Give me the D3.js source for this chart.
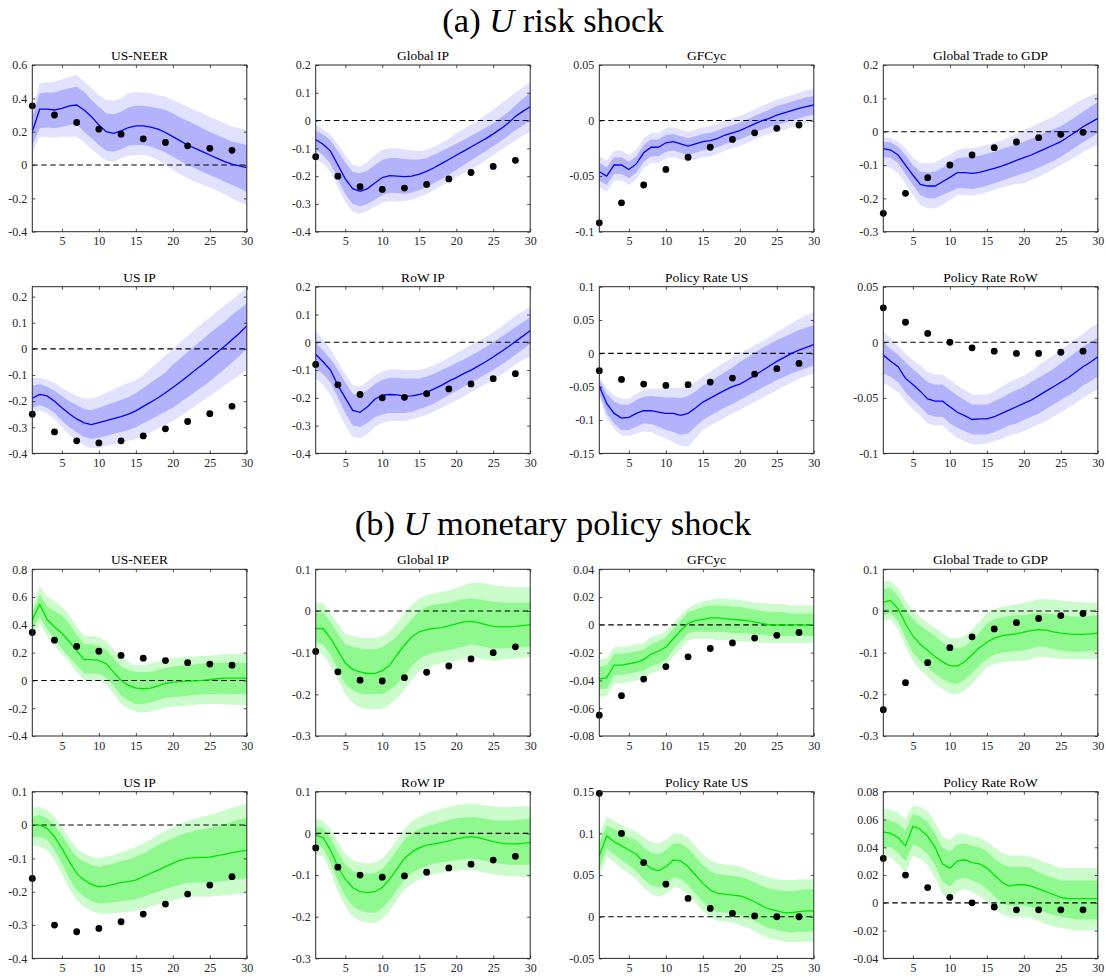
<!DOCTYPE html>
<html>
<head>
<meta charset="utf-8">
<script src="https://cdn.jsdelivr.net/npm/d3@7"></script>
<style>
  html, body { margin: 0; padding: 0; background: #fff; }
  svg { display: block; }
</style>
</head>
<body>
<script>
// Impulse responses over 30 horizons, with 68% and 90% credible bands
// and a comparison response shown as dots every third horizon.
const horizons = [1,2,3,4,5,6,7,8,9,10,11,12,13,14,15,16,17,18,19,20,21,22,23,24,25,26,27,28,29,30];
const dotHorizons = [1,4,7,10,13,16,19,22,25,28];
const xTicks = [5,10,15,20,25,30];

// ---- (a) risk shock ----
const riskNeerMed  = [0.20,0.335,0.335,0.33,0.34,0.355,0.36,0.33,0.29,0.24,0.20,0.19,0.205,0.225,0.235,0.235,0.228,0.215,0.195,0.17,0.145,0.12,0.10,0.08,0.06,0.04,0.02,0.005,-0.005,-0.015];
const riskNeerHi68 = [0.29,0.43,0.435,0.435,0.45,0.46,0.47,0.44,0.39,0.35,0.31,0.305,0.32,0.345,0.355,0.355,0.35,0.34,0.33,0.31,0.285,0.265,0.245,0.22,0.20,0.18,0.16,0.14,0.13,0.12];
const riskNeerLo68 = [0.12,0.22,0.225,0.22,0.23,0.24,0.245,0.20,0.16,0.12,0.085,0.08,0.095,0.115,0.12,0.12,0.11,0.095,0.075,0.05,0.025,0.0,-0.02,-0.04,-0.06,-0.08,-0.10,-0.12,-0.14,-0.16];
const riskNeerHi90 = [0.33,0.49,0.495,0.50,0.515,0.53,0.54,0.50,0.46,0.42,0.39,0.385,0.40,0.43,0.44,0.435,0.43,0.42,0.41,0.39,0.37,0.35,0.33,0.31,0.29,0.27,0.25,0.23,0.22,0.21];
const riskNeerLo90 = [0.07,0.17,0.17,0.165,0.17,0.17,0.17,0.135,0.095,0.06,0.025,0.02,0.04,0.055,0.06,0.06,0.05,0.03,0.0,-0.03,-0.055,-0.08,-0.10,-0.12,-0.135,-0.155,-0.175,-0.20,-0.22,-0.24];
const riskNeerDots = [0.355,0.30,0.255,0.215,0.185,0.157,0.135,0.115,0.10,0.088];

const riskGipMed  = [-0.068,-0.085,-0.11,-0.16,-0.21,-0.245,-0.255,-0.245,-0.225,-0.205,-0.198,-0.2,-0.202,-0.2,-0.193,-0.183,-0.17,-0.155,-0.14,-0.125,-0.11,-0.095,-0.08,-0.065,-0.048,-0.03,-0.01,0.015,0.033,0.05];
const riskGipHi68 = [-0.035,-0.05,-0.07,-0.11,-0.15,-0.185,-0.19,-0.18,-0.16,-0.142,-0.135,-0.135,-0.138,-0.14,-0.14,-0.135,-0.123,-0.11,-0.097,-0.083,-0.07,-0.055,-0.04,-0.025,-0.01,0.01,0.03,0.055,0.078,0.10];
const riskGipLo68 = [-0.105,-0.125,-0.155,-0.21,-0.265,-0.3,-0.308,-0.3,-0.285,-0.268,-0.26,-0.262,-0.263,-0.26,-0.25,-0.24,-0.225,-0.21,-0.195,-0.178,-0.16,-0.143,-0.127,-0.11,-0.092,-0.075,-0.055,-0.035,-0.018,0.0];
const riskGipHi90 = [-0.015,-0.03,-0.05,-0.085,-0.125,-0.16,-0.165,-0.15,-0.125,-0.106,-0.1,-0.1,-0.103,-0.107,-0.11,-0.105,-0.095,-0.08,-0.065,-0.045,-0.03,-0.015,0.0,0.02,0.04,0.06,0.08,0.10,0.12,0.14];
const riskGipLo90 = [-0.14,-0.155,-0.185,-0.24,-0.295,-0.328,-0.335,-0.325,-0.31,-0.296,-0.29,-0.29,-0.29,-0.285,-0.275,-0.265,-0.25,-0.235,-0.22,-0.205,-0.19,-0.175,-0.16,-0.143,-0.125,-0.107,-0.09,-0.072,-0.055,-0.04];
const riskGipDots = [-0.13,-0.20,-0.238,-0.248,-0.243,-0.23,-0.21,-0.187,-0.165,-0.143];

const riskGfcMed  = [-0.046,-0.05,-0.04,-0.04,-0.044,-0.039,-0.029,-0.024,-0.024,-0.02,-0.019,-0.021,-0.023,-0.021,-0.019,-0.018,-0.016,-0.013,-0.011,-0.009,-0.006,-0.003,0.0,0.002,0.005,0.007,0.009,0.011,0.0125,0.014];
const riskGfcHi68 = [-0.038,-0.042,-0.033,-0.033,-0.037,-0.032,-0.022,-0.017,-0.017,-0.013,-0.012,-0.014,-0.016,-0.014,-0.012,-0.011,-0.009,-0.006,-0.004,-0.002,0.001,0.004,0.007,0.01,0.013,0.015,0.017,0.019,0.021,0.022];
const riskGfcLo68 = [-0.054,-0.058,-0.048,-0.048,-0.052,-0.047,-0.037,-0.032,-0.032,-0.028,-0.027,-0.029,-0.031,-0.029,-0.027,-0.026,-0.024,-0.021,-0.019,-0.017,-0.014,-0.011,-0.008,-0.006,-0.004,-0.002,0.0,0.002,0.004,0.005];
const riskGfcHi90 = [-0.032,-0.036,-0.027,-0.027,-0.031,-0.026,-0.016,-0.011,-0.011,-0.007,-0.006,-0.008,-0.01,-0.008,-0.006,-0.005,-0.003,0.0,0.002,0.004,0.007,0.01,0.013,0.016,0.019,0.021,0.023,0.025,0.027,0.029];
const riskGfcLo90 = [-0.06,-0.064,-0.054,-0.054,-0.058,-0.053,-0.043,-0.038,-0.038,-0.034,-0.033,-0.035,-0.037,-0.035,-0.033,-0.032,-0.03,-0.027,-0.025,-0.023,-0.02,-0.017,-0.014,-0.012,-0.01,-0.008,-0.006,-0.004,-0.002,-0.001];
const riskGfcDots = [-0.092,-0.074,-0.058,-0.044,-0.033,-0.024,-0.017,-0.011,-0.007,-0.004];

const riskTradeMed  = [-0.051,-0.055,-0.07,-0.1,-0.13,-0.158,-0.163,-0.163,-0.15,-0.137,-0.123,-0.123,-0.125,-0.122,-0.116,-0.11,-0.103,-0.095,-0.086,-0.078,-0.07,-0.06,-0.05,-0.04,-0.03,-0.015,-0.001,0.015,0.027,0.04];
const riskTradeHi68 = [-0.03,-0.032,-0.045,-0.07,-0.1,-0.12,-0.122,-0.12,-0.108,-0.095,-0.08,-0.077,-0.077,-0.072,-0.066,-0.06,-0.052,-0.045,-0.037,-0.03,-0.021,-0.012,-0.002,0.007,0.016,0.03,0.045,0.06,0.075,0.088];
const riskTradeLo68 = [-0.075,-0.078,-0.095,-0.128,-0.16,-0.19,-0.2,-0.2,-0.19,-0.18,-0.17,-0.17,-0.172,-0.168,-0.162,-0.155,-0.147,-0.14,-0.132,-0.125,-0.117,-0.108,-0.098,-0.088,-0.075,-0.062,-0.047,-0.032,-0.018,-0.005];
const riskTradeHi90 = [-0.017,-0.018,-0.03,-0.05,-0.078,-0.095,-0.095,-0.093,-0.08,-0.07,-0.055,-0.05,-0.05,-0.045,-0.04,-0.033,-0.026,-0.018,-0.008,0.005,0.015,0.025,0.035,0.045,0.06,0.072,0.085,0.098,0.108,0.115];
const riskTradeLo90 = [-0.105,-0.108,-0.125,-0.155,-0.19,-0.22,-0.23,-0.23,-0.22,-0.205,-0.19,-0.19,-0.192,-0.188,-0.182,-0.175,-0.168,-0.162,-0.157,-0.155,-0.145,-0.135,-0.125,-0.113,-0.1,-0.088,-0.075,-0.062,-0.05,-0.04];
const riskTradeDots = [-0.245,-0.185,-0.138,-0.1,-0.07,-0.048,-0.031,-0.018,-0.008,-0.002];

const riskUsipMed  = [-0.189,-0.174,-0.18,-0.2,-0.225,-0.248,-0.268,-0.283,-0.29,-0.282,-0.275,-0.267,-0.259,-0.25,-0.237,-0.22,-0.204,-0.187,-0.168,-0.148,-0.127,-0.105,-0.082,-0.06,-0.037,-0.013,0.01,0.035,0.06,0.088];
const riskUsipHi68 = [-0.14,-0.135,-0.145,-0.16,-0.18,-0.2,-0.215,-0.23,-0.235,-0.225,-0.215,-0.205,-0.195,-0.185,-0.17,-0.15,-0.13,-0.11,-0.09,-0.06,-0.037,-0.012,0.012,0.035,0.06,0.083,0.105,0.13,0.152,0.175];
const riskUsipLo68 = [-0.225,-0.215,-0.225,-0.245,-0.275,-0.3,-0.32,-0.337,-0.345,-0.34,-0.333,-0.325,-0.318,-0.31,-0.3,-0.285,-0.27,-0.255,-0.24,-0.225,-0.205,-0.185,-0.165,-0.145,-0.125,-0.1,-0.077,-0.052,-0.027,0.0];
const riskUsipHi90 = [-0.11,-0.11,-0.12,-0.13,-0.15,-0.165,-0.18,-0.19,-0.19,-0.18,-0.168,-0.155,-0.142,-0.13,-0.12,-0.1,-0.075,-0.05,-0.025,0.0,0.025,0.05,0.075,0.098,0.12,0.145,0.165,0.188,0.21,0.235];
const riskUsipLo90 = [-0.245,-0.235,-0.245,-0.27,-0.3,-0.33,-0.35,-0.37,-0.38,-0.378,-0.372,-0.365,-0.36,-0.352,-0.345,-0.333,-0.32,-0.305,-0.29,-0.275,-0.258,-0.24,-0.22,-0.2,-0.18,-0.16,-0.14,-0.12,-0.1,-0.08];
const riskUsipDots = [-0.25,-0.318,-0.352,-0.36,-0.352,-0.333,-0.306,-0.278,-0.248,-0.22];

const riskRowipMed  = [-0.044,-0.07,-0.1,-0.155,-0.2,-0.245,-0.252,-0.232,-0.205,-0.19,-0.188,-0.189,-0.194,-0.193,-0.188,-0.18,-0.168,-0.155,-0.14,-0.127,-0.113,-0.1,-0.085,-0.07,-0.053,-0.035,-0.017,0.003,0.022,0.042];
const riskRowipHi68 = [0.0,-0.03,-0.06,-0.1,-0.145,-0.185,-0.19,-0.172,-0.15,-0.135,-0.128,-0.128,-0.13,-0.13,-0.13,-0.123,-0.112,-0.1,-0.088,-0.075,-0.062,-0.048,-0.033,-0.017,0.0,0.018,0.035,0.055,0.072,0.09];
const riskRowipLo68 = [-0.09,-0.115,-0.145,-0.2,-0.255,-0.3,-0.305,-0.29,-0.27,-0.26,-0.255,-0.255,-0.255,-0.25,-0.24,-0.232,-0.22,-0.205,-0.19,-0.175,-0.16,-0.145,-0.13,-0.115,-0.1,-0.083,-0.065,-0.045,-0.025,-0.005];
const riskRowipHi90 = [0.04,0.01,-0.025,-0.07,-0.115,-0.155,-0.16,-0.14,-0.12,-0.105,-0.098,-0.097,-0.1,-0.1,-0.1,-0.093,-0.083,-0.07,-0.055,-0.04,-0.025,-0.01,0.005,0.02,0.035,0.055,0.075,0.095,0.112,0.13];
const riskRowipLo90 = [-0.13,-0.155,-0.19,-0.245,-0.3,-0.34,-0.345,-0.33,-0.305,-0.29,-0.283,-0.283,-0.283,-0.278,-0.27,-0.262,-0.25,-0.237,-0.223,-0.21,-0.195,-0.18,-0.165,-0.15,-0.135,-0.118,-0.1,-0.08,-0.065,-0.05];
const riskRowipDots = [-0.08,-0.153,-0.188,-0.2,-0.198,-0.185,-0.168,-0.15,-0.131,-0.113];

const riskUsrateMed  = [-0.049,-0.075,-0.09,-0.097,-0.096,-0.09,-0.086,-0.086,-0.088,-0.09,-0.09,-0.093,-0.09,-0.082,-0.073,-0.067,-0.061,-0.055,-0.05,-0.046,-0.04,-0.033,-0.026,-0.019,-0.012,-0.006,0.0,0.005,0.009,0.013];
const riskUsrateHi68 = [-0.04,-0.06,-0.072,-0.077,-0.077,-0.07,-0.065,-0.064,-0.065,-0.066,-0.066,-0.067,-0.064,-0.057,-0.048,-0.042,-0.035,-0.028,-0.021,-0.013,-0.006,0.001,0.008,0.014,0.02,0.025,0.03,0.035,0.039,0.042];
const riskUsrateLo68 = [-0.058,-0.09,-0.105,-0.115,-0.115,-0.11,-0.105,-0.106,-0.11,-0.115,-0.118,-0.122,-0.12,-0.11,-0.1,-0.093,-0.087,-0.081,-0.076,-0.07,-0.064,-0.058,-0.052,-0.046,-0.04,-0.035,-0.03,-0.026,-0.022,-0.018];
const riskUsrateHi90 = [-0.035,-0.052,-0.063,-0.068,-0.068,-0.06,-0.055,-0.053,-0.053,-0.052,-0.052,-0.052,-0.05,-0.043,-0.035,-0.028,-0.02,-0.013,-0.006,0.0,0.006,0.012,0.018,0.024,0.032,0.038,0.045,0.052,0.057,0.062];
const riskUsrateLo90 = [-0.065,-0.098,-0.113,-0.123,-0.124,-0.12,-0.117,-0.118,-0.123,-0.128,-0.133,-0.138,-0.14,-0.128,-0.115,-0.108,-0.102,-0.096,-0.09,-0.085,-0.079,-0.073,-0.067,-0.061,-0.055,-0.049,-0.044,-0.038,-0.034,-0.03];
const riskUsrateDots = [-0.026,-0.039,-0.046,-0.048,-0.047,-0.043,-0.037,-0.031,-0.023,-0.015];

const riskRowrateMed  = [-0.0115,-0.017,-0.022,-0.0325,-0.038,-0.044,-0.051,-0.053,-0.053,-0.058,-0.063,-0.066,-0.0695,-0.069,-0.069,-0.067,-0.064,-0.061,-0.058,-0.055,-0.052,-0.048,-0.044,-0.04,-0.036,-0.032,-0.027,-0.022,-0.018,-0.013];
const riskRowrateHi68 = [0.0,-0.006,-0.011,-0.018,-0.024,-0.03,-0.036,-0.038,-0.038,-0.043,-0.048,-0.052,-0.056,-0.056,-0.056,-0.053,-0.05,-0.046,-0.043,-0.04,-0.036,-0.032,-0.028,-0.024,-0.019,-0.014,-0.009,-0.004,0.0,0.004];
const riskRowrateLo68 = [-0.028,-0.031,-0.036,-0.045,-0.052,-0.058,-0.065,-0.067,-0.067,-0.073,-0.077,-0.08,-0.083,-0.083,-0.083,-0.081,-0.078,-0.075,-0.073,-0.07,-0.067,-0.064,-0.06,-0.056,-0.052,-0.048,-0.044,-0.039,-0.035,-0.031];
const riskRowrateHi90 = [0.01,0.003,-0.003,-0.01,-0.016,-0.021,-0.027,-0.029,-0.029,-0.034,-0.039,-0.043,-0.047,-0.047,-0.047,-0.044,-0.04,-0.036,-0.033,-0.03,-0.026,-0.021,-0.016,-0.012,-0.007,-0.002,0.003,0.008,0.013,0.017];
const riskRowrateLo90 = [-0.037,-0.04,-0.045,-0.053,-0.06,-0.066,-0.073,-0.075,-0.075,-0.081,-0.086,-0.089,-0.092,-0.092,-0.091,-0.089,-0.087,-0.084,-0.082,-0.08,-0.077,-0.074,-0.071,-0.067,-0.063,-0.059,-0.055,-0.05,-0.046,-0.042];
const riskRowrateDots = [0.031,0.018,0.008,0.0,-0.005,-0.008,-0.01,-0.01,-0.009,-0.008];

// ---- (b) monetary policy shock ----
const monNeerMed  = [0.435,0.548,0.44,0.385,0.34,0.28,0.215,0.15,0.15,0.145,0.12,0.06,0.0,-0.035,-0.055,-0.06,-0.055,-0.04,-0.022,-0.012,-0.008,-0.005,-0.003,0.0,0.005,0.012,0.016,0.017,0.017,0.015];
const monNeerHi68 = [0.48,0.62,0.53,0.5,0.47,0.41,0.33,0.26,0.26,0.25,0.22,0.16,0.1,0.075,0.06,0.06,0.06,0.075,0.09,0.1,0.105,0.11,0.115,0.12,0.125,0.128,0.128,0.127,0.126,0.125];
const monNeerLo68 = [0.37,0.46,0.37,0.3,0.23,0.165,0.11,0.05,0.05,0.05,0.02,-0.04,-0.11,-0.145,-0.17,-0.17,-0.16,-0.14,-0.125,-0.12,-0.115,-0.11,-0.105,-0.102,-0.1,-0.098,-0.097,-0.098,-0.1,-0.1];
const monNeerHi90 = [0.53,0.68,0.6,0.57,0.53,0.47,0.39,0.32,0.32,0.31,0.28,0.22,0.17,0.13,0.11,0.11,0.12,0.135,0.15,0.16,0.165,0.17,0.172,0.175,0.18,0.185,0.19,0.19,0.19,0.19];
const monNeerLo90 = [0.32,0.41,0.32,0.25,0.19,0.13,0.06,0.0,0.0,0.0,-0.03,-0.1,-0.17,-0.205,-0.225,-0.23,-0.225,-0.21,-0.195,-0.19,-0.185,-0.18,-0.175,-0.172,-0.17,-0.17,-0.172,-0.175,-0.178,-0.18];
const monNeerDots = [0.345,0.29,0.245,0.21,0.18,0.16,0.143,0.128,0.118,0.11];

const monGipMed  = [-0.042,-0.042,-0.065,-0.095,-0.125,-0.14,-0.146,-0.15,-0.15,-0.143,-0.13,-0.105,-0.082,-0.062,-0.05,-0.045,-0.042,-0.04,-0.036,-0.031,-0.026,-0.025,-0.028,-0.033,-0.037,-0.038,-0.038,-0.037,-0.035,-0.033];
const monGipHi68 = [-0.005,-0.005,-0.025,-0.055,-0.08,-0.085,-0.09,-0.092,-0.092,-0.087,-0.075,-0.06,-0.04,-0.02,0.0,0.01,0.015,0.018,0.02,0.025,0.028,0.03,0.028,0.025,0.022,0.021,0.02,0.02,0.02,0.02];
const monGipLo68 = [-0.075,-0.08,-0.105,-0.14,-0.175,-0.19,-0.198,-0.2,-0.2,-0.2,-0.19,-0.175,-0.155,-0.132,-0.115,-0.105,-0.1,-0.097,-0.094,-0.09,-0.085,-0.08,-0.083,-0.087,-0.09,-0.09,-0.089,-0.088,-0.087,-0.085];
const monGipHi90 = [0.02,0.02,-0.005,-0.03,-0.055,-0.06,-0.065,-0.065,-0.065,-0.06,-0.048,-0.03,-0.005,0.015,0.03,0.038,0.042,0.046,0.05,0.055,0.062,0.068,0.068,0.066,0.062,0.06,0.058,0.057,0.057,0.057];
const monGipLo90 = [-0.1,-0.105,-0.13,-0.165,-0.2,-0.22,-0.232,-0.235,-0.235,-0.235,-0.225,-0.21,-0.188,-0.165,-0.145,-0.135,-0.13,-0.126,-0.123,-0.12,-0.115,-0.11,-0.113,-0.117,-0.12,-0.118,-0.116,-0.114,-0.112,-0.11];
const monGipDots = [-0.097,-0.146,-0.166,-0.168,-0.16,-0.147,-0.132,-0.115,-0.1,-0.086];

const monGfcMed  = [-0.039,-0.038,-0.029,-0.029,-0.028,-0.027,-0.025,-0.021,-0.019,-0.016,-0.01,-0.004,0.001,0.003,0.004,0.005,0.005,0.0045,0.004,0.0035,0.003,0.002,0.001,0.0,0.0,0.0,0.0,0.0,0.0,0.0];
const monGfcHi68 = [-0.03,-0.029,-0.021,-0.021,-0.02,-0.019,-0.018,-0.014,-0.012,-0.009,-0.003,0.003,0.009,0.011,0.013,0.014,0.014,0.014,0.013,0.013,0.012,0.011,0.01,0.009,0.009,0.009,0.008,0.008,0.008,0.008];
const monGfcLo68 = [-0.046,-0.046,-0.036,-0.036,-0.035,-0.034,-0.033,-0.03,-0.028,-0.025,-0.018,-0.012,-0.006,-0.005,-0.005,-0.005,-0.005,-0.005,-0.006,-0.006,-0.006,-0.007,-0.007,-0.008,-0.008,-0.008,-0.008,-0.008,-0.008,-0.008];
const monGfcHi90 = [-0.025,-0.024,-0.016,-0.016,-0.015,-0.014,-0.013,-0.009,-0.007,-0.005,0.001,0.007,0.012,0.015,0.017,0.018,0.019,0.019,0.018,0.018,0.017,0.016,0.016,0.015,0.015,0.015,0.014,0.014,0.014,0.014];
const monGfcLo90 = [-0.052,-0.051,-0.042,-0.042,-0.041,-0.04,-0.039,-0.035,-0.033,-0.03,-0.023,-0.017,-0.011,-0.01,-0.01,-0.01,-0.011,-0.011,-0.011,-0.012,-0.012,-0.012,-0.013,-0.013,-0.013,-0.013,-0.013,-0.013,-0.013,-0.013];
const monGfcDots = [-0.065,-0.051,-0.039,-0.03,-0.023,-0.017,-0.013,-0.0095,-0.0075,-0.0055];

const monTradeMed  = [0.021,0.025,0.005,-0.03,-0.06,-0.08,-0.095,-0.11,-0.122,-0.131,-0.132,-0.122,-0.105,-0.088,-0.075,-0.065,-0.06,-0.057,-0.055,-0.051,-0.047,-0.045,-0.046,-0.05,-0.053,-0.055,-0.056,-0.056,-0.055,-0.053];
const monTradeHi68 = [0.052,0.055,0.035,0.005,-0.02,-0.035,-0.048,-0.06,-0.075,-0.088,-0.09,-0.085,-0.07,-0.052,-0.03,-0.02,-0.015,-0.012,-0.01,-0.01,-0.007,-0.005,-0.006,-0.008,-0.01,-0.012,-0.013,-0.013,-0.012,-0.01];
const monTradeLo68 = [-0.01,-0.005,-0.025,-0.065,-0.1,-0.12,-0.135,-0.15,-0.163,-0.173,-0.175,-0.165,-0.15,-0.13,-0.115,-0.105,-0.1,-0.098,-0.096,-0.095,-0.09,-0.085,-0.087,-0.091,-0.095,-0.097,-0.098,-0.097,-0.096,-0.095];
const monTradeHi90 = [0.072,0.072,0.055,0.025,0.0,-0.015,-0.028,-0.04,-0.053,-0.065,-0.066,-0.06,-0.045,-0.025,-0.005,0.005,0.01,0.013,0.016,0.02,0.024,0.028,0.028,0.027,0.025,0.023,0.022,0.021,0.02,0.02];
const monTradeLo90 = [-0.025,-0.02,-0.045,-0.085,-0.12,-0.143,-0.158,-0.175,-0.188,-0.198,-0.2,-0.19,-0.175,-0.155,-0.135,-0.127,-0.123,-0.121,-0.12,-0.12,-0.115,-0.11,-0.111,-0.113,-0.115,-0.116,-0.116,-0.116,-0.115,-0.115];
const monTradeDots = [-0.237,-0.172,-0.124,-0.088,-0.062,-0.043,-0.028,-0.018,-0.011,-0.006];

const monUsipMed  = [0.0,0.0,-0.01,-0.035,-0.07,-0.11,-0.145,-0.165,-0.178,-0.185,-0.183,-0.178,-0.172,-0.17,-0.165,-0.155,-0.145,-0.135,-0.125,-0.115,-0.105,-0.1,-0.098,-0.097,-0.096,-0.092,-0.088,-0.083,-0.079,-0.076];
const monUsipHi68 = [0.025,0.03,0.02,0.0,-0.03,-0.065,-0.095,-0.11,-0.12,-0.125,-0.12,-0.115,-0.108,-0.103,-0.095,-0.085,-0.073,-0.06,-0.05,-0.04,-0.03,-0.022,-0.017,-0.013,-0.009,-0.003,0.003,0.01,0.016,0.022];
const monUsipLo68 = [-0.035,-0.035,-0.045,-0.075,-0.115,-0.16,-0.195,-0.215,-0.228,-0.235,-0.235,-0.232,-0.228,-0.226,-0.222,-0.215,-0.207,-0.2,-0.192,-0.185,-0.178,-0.173,-0.172,-0.172,-0.172,-0.17,-0.168,-0.165,-0.162,-0.16];
const monUsipHi90 = [0.05,0.055,0.045,0.025,-0.005,-0.04,-0.07,-0.085,-0.095,-0.1,-0.095,-0.09,-0.082,-0.075,-0.066,-0.055,-0.043,-0.03,-0.018,-0.007,0.004,0.012,0.018,0.024,0.03,0.037,0.045,0.052,0.058,0.065];
const monUsipLo90 = [-0.06,-0.065,-0.075,-0.105,-0.145,-0.19,-0.225,-0.245,-0.258,-0.265,-0.266,-0.265,-0.262,-0.26,-0.257,-0.252,-0.245,-0.238,-0.232,-0.226,-0.22,-0.216,-0.215,-0.215,-0.215,-0.213,-0.211,-0.209,-0.207,-0.205];
const monUsipDots = [-0.16,-0.3,-0.32,-0.31,-0.29,-0.267,-0.237,-0.207,-0.18,-0.155];

const monRowipMed  = [-0.005,-0.01,-0.04,-0.08,-0.11,-0.13,-0.14,-0.142,-0.14,-0.13,-0.11,-0.085,-0.06,-0.045,-0.035,-0.028,-0.025,-0.022,-0.018,-0.013,-0.01,-0.008,-0.01,-0.015,-0.02,-0.023,-0.025,-0.025,-0.024,-0.022];
const monRowipHi68 = [0.015,0.012,-0.01,-0.045,-0.075,-0.09,-0.095,-0.097,-0.095,-0.085,-0.065,-0.04,-0.015,0.0,0.01,0.017,0.022,0.027,0.032,0.036,0.038,0.04,0.038,0.035,0.032,0.03,0.03,0.032,0.034,0.035];
const monRowipLo68 = [-0.03,-0.035,-0.07,-0.115,-0.15,-0.175,-0.185,-0.19,-0.19,-0.18,-0.16,-0.135,-0.11,-0.095,-0.085,-0.078,-0.073,-0.07,-0.067,-0.064,-0.062,-0.06,-0.062,-0.066,-0.07,-0.073,-0.075,-0.075,-0.075,-0.075];
const monRowipHi90 = [0.035,0.03,0.01,-0.02,-0.05,-0.065,-0.07,-0.072,-0.07,-0.06,-0.04,-0.015,0.01,0.03,0.04,0.048,0.053,0.058,0.063,0.068,0.07,0.072,0.07,0.067,0.065,0.063,0.063,0.064,0.065,0.065];
const monRowipLo90 = [-0.05,-0.055,-0.09,-0.14,-0.175,-0.2,-0.21,-0.215,-0.215,-0.205,-0.185,-0.16,-0.135,-0.12,-0.11,-0.103,-0.098,-0.095,-0.092,-0.09,-0.088,-0.087,-0.09,-0.095,-0.098,-0.1,-0.102,-0.103,-0.104,-0.105];
const monRowipDots = [-0.035,-0.081,-0.1,-0.105,-0.102,-0.093,-0.083,-0.074,-0.064,-0.055];

const monUsrateMed  = [0.073,0.097,0.09,0.085,0.08,0.075,0.065,0.058,0.055,0.06,0.068,0.067,0.06,0.05,0.04,0.032,0.028,0.027,0.026,0.025,0.022,0.018,0.013,0.009,0.007,0.005,0.005,0.006,0.007,0.007];
const monUsrateHi68 = [0.088,0.11,0.105,0.1,0.095,0.092,0.083,0.077,0.075,0.08,0.088,0.088,0.082,0.072,0.062,0.055,0.051,0.05,0.049,0.048,0.045,0.041,0.037,0.034,0.032,0.031,0.031,0.032,0.033,0.033];
const monUsrateLo68 = [0.058,0.082,0.075,0.068,0.062,0.055,0.045,0.038,0.035,0.038,0.047,0.045,0.038,0.028,0.018,0.01,0.006,0.005,0.004,0.002,-0.001,-0.005,-0.01,-0.014,-0.016,-0.018,-0.019,-0.018,-0.018,-0.018];
const monUsrateHi90 = [0.1,0.12,0.115,0.11,0.105,0.102,0.095,0.09,0.088,0.092,0.1,0.1,0.095,0.085,0.075,0.068,0.064,0.063,0.062,0.06,0.057,0.053,0.05,0.047,0.045,0.044,0.044,0.045,0.045,0.045];
const monUsrateLo90 = [0.048,0.072,0.065,0.058,0.052,0.045,0.035,0.028,0.024,0.027,0.036,0.034,0.027,0.017,0.007,0.0,-0.005,-0.006,-0.007,-0.01,-0.013,-0.017,-0.022,-0.026,-0.028,-0.03,-0.031,-0.03,-0.03,-0.03];
const monUsrateDots = [0.148,0.1,0.065,0.039,0.022,0.01,0.004,0.001,0.0,0.0];

const monRowrateMed  = [0.051,0.05,0.047,0.041,0.055,0.053,0.048,0.04,0.028,0.025,0.03,0.031,0.029,0.028,0.025,0.02,0.015,0.012,0.013,0.013,0.012,0.01,0.008,0.006,0.004,0.003,0.003,0.003,0.003,0.003];
const monRowrateHi68 = [0.06,0.059,0.057,0.052,0.064,0.062,0.058,0.05,0.04,0.037,0.042,0.043,0.041,0.04,0.037,0.032,0.028,0.026,0.026,0.026,0.025,0.022,0.02,0.018,0.016,0.016,0.016,0.016,0.016,0.016];
const monRowrateLo68 = [0.04,0.04,0.036,0.03,0.042,0.04,0.035,0.027,0.015,0.012,0.017,0.018,0.016,0.014,0.01,0.005,0.0,-0.002,-0.002,-0.002,-0.003,-0.005,-0.007,-0.009,-0.01,-0.011,-0.012,-0.012,-0.012,-0.012];
const monRowrateHi90 = [0.068,0.067,0.065,0.06,0.07,0.069,0.066,0.058,0.048,0.045,0.05,0.05,0.048,0.047,0.044,0.04,0.036,0.034,0.034,0.034,0.033,0.031,0.029,0.027,0.025,0.025,0.025,0.025,0.025,0.025];
const monRowrateLo90 = [0.033,0.033,0.028,0.022,0.034,0.032,0.027,0.018,0.006,0.003,0.008,0.01,0.008,0.005,0.001,-0.004,-0.008,-0.01,-0.01,-0.01,-0.011,-0.013,-0.015,-0.017,-0.018,-0.019,-0.02,-0.02,-0.02,-0.02];
const monRowrateDots = [0.032,0.02,0.011,0.004,0.0,-0.003,-0.005,-0.005,-0.005,-0.005];

// Panel titles, y-axis ranges and y tick labels, row by row
const panelTitles = ["US-NEER","Global IP","GFCyc","Global Trade to GDP",
                     "US IP","RoW IP","Policy Rate US","Policy Rate RoW",
                     "US-NEER","Global IP","GFCyc","Global Trade to GDP",
                     "US IP","RoW IP","Policy Rate US","Policy Rate RoW"];
const yDomains = [[-0.4,0.6],[-0.4,0.2],[-0.1,0.05],[-0.3,0.2],
                  [-0.4,0.238],[-0.4,0.2],[-0.15,0.1],[-0.1,0.05],
                  [-0.4,0.8],[-0.3,0.1],[-0.08,0.04],[-0.3,0.1],
                  [-0.4,0.1],[-0.3,0.1],[-0.05,0.15],[-0.04,0.08]];
const yTicks = [[-0.4,-0.2,0,0.2,0.4,0.6],[-0.4,-0.3,-0.2,-0.1,0,0.1,0.2],[-0.1,-0.05,0,0.05],[-0.3,-0.2,-0.1,0,0.1,0.2],
                [-0.4,-0.3,-0.2,-0.1,0,0.1,0.2],[-0.4,-0.3,-0.2,-0.1,0,0.1,0.2],[-0.15,-0.1,-0.05,0,0.05,0.1],[-0.1,-0.05,0,0.05],
                [-0.4,-0.2,0,0.2,0.4,0.6,0.8],[-0.3,-0.2,-0.1,0,0.1],[-0.08,-0.06,-0.04,-0.02,0,0.02,0.04],[-0.3,-0.2,-0.1,0,0.1],
                [-0.4,-0.3,-0.2,-0.1,0,0.1],[-0.3,-0.2,-0.1,0,0.1],[-0.05,0,0.05,0.1,0.15],[-0.04,-0.02,0,0.02,0.04,0.06,0.08]];

const medians = [riskNeerMed,riskGipMed,riskGfcMed,riskTradeMed,riskUsipMed,riskRowipMed,riskUsrateMed,riskRowrateMed,
                 monNeerMed,monGipMed,monGfcMed,monTradeMed,monUsipMed,monRowipMed,monUsrateMed,monRowrateMed];
const hi68s = [riskNeerHi68,riskGipHi68,riskGfcHi68,riskTradeHi68,riskUsipHi68,riskRowipHi68,riskUsrateHi68,riskRowrateHi68,
               monNeerHi68,monGipHi68,monGfcHi68,monTradeHi68,monUsipHi68,monRowipHi68,monUsrateHi68,monRowrateHi68];
const lo68s = [riskNeerLo68,riskGipLo68,riskGfcLo68,riskTradeLo68,riskUsipLo68,riskRowipLo68,riskUsrateLo68,riskRowrateLo68,
               monNeerLo68,monGipLo68,monGfcLo68,monTradeLo68,monUsipLo68,monRowipLo68,monUsrateLo68,monRowrateLo68];
const hi90s = [riskNeerHi90,riskGipHi90,riskGfcHi90,riskTradeHi90,riskUsipHi90,riskRowipHi90,riskUsrateHi90,riskRowrateHi90,
               monNeerHi90,monGipHi90,monGfcHi90,monTradeHi90,monUsipHi90,monRowipHi90,monUsrateHi90,monRowrateHi90];
const lo90s = [riskNeerLo90,riskGipLo90,riskGfcLo90,riskTradeLo90,riskUsipLo90,riskRowipLo90,riskUsrateLo90,riskRowrateLo90,
               monNeerLo90,monGipLo90,monGfcLo90,monTradeLo90,monUsipLo90,monRowipLo90,monUsrateLo90,monRowrateLo90];
const dotSeries = [riskNeerDots,riskGipDots,riskGfcDots,riskTradeDots,riskUsipDots,riskRowipDots,riskUsrateDots,riskRowrateDots,
                   monNeerDots,monGipDots,monGfcDots,monTradeDots,monUsipDots,monRowipDots,monUsrateDots,monRowrateDots];

// Colour schemes: blue for the risk shock, green for the monetary policy shock
const schemes = {
  blue:  { line: "#0000ff", inner: "#b3b3fd", outer: "#e2e2fe" },
  green: { line: "#00e400", inner: "#8ff88f", outer: "#ccfccc" }
};

// ---- layout ----
const W = 1106, H = 978;
const colLeft = [32.3, 315.7, 599.3, 883.3];
const rowTop = [65, 286.7, 569.3, 791.7];
const pw = 214.5, ph = 166.7;
const axisColor = "#262626";
const serif = "'Liberation Serif', 'Times New Roman', serif";

const svg = d3.select("body").append("svg")
  .attr("width", W).attr("height", H)
  .attr("viewBox", `0 0 ${W} ${H}`);

// Section headings
const headings = [
  { y: 31.5, pre: "(a) ", post: " risk shock" },
  { y: 535, pre: "(b) ", post: " monetary policy shock" }
];
headings.forEach(h => {
  const t = svg.append("text")
    .attr("x", W / 2).attr("y", h.y)
    .attr("text-anchor", "middle")
    .attr("font-family", serif)
    .attr("font-size", 34.5)
    .attr("font-weight", 400)
    .attr("fill", "#000");
  t.append("tspan").text(h.pre);
  t.append("tspan").attr("font-style", "italic").text("U");
  t.append("tspan").text(h.post);
});

const fmt = v => (v === 0 ? "0" : d3.format("~g")(+v.toFixed(4)).replace("−", "-"));

const defs = svg.append("defs");

panelTitles.forEach((title, i) => {
  const row = Math.floor(i / 4), col = i % 4;
  const scheme = row < 2 ? schemes.blue : schemes.green;
  const g = svg.append("g").attr("transform", `translate(${colLeft[col]},${rowTop[row]})`);

  const x = d3.scaleLinear().domain([1, 30]).range([0, pw]);
  const y = d3.scaleLinear().domain(yDomains[i]).range([ph, 0]);

  defs.append("clipPath").attr("id", `clip${i}`)
    .append("rect").attr("width", pw).attr("height", ph);

  const plot = g.append("g").attr("clip-path", `url(#clip${i})`);

  const band = (lo, hi) => d3.area()
    .x((d, k) => x(horizons[k]))
    .y0((d, k) => y(lo[k]))
    .y1((d, k) => y(hi[k]))(horizons);

  plot.append("path").attr("d", band(lo90s[i], hi90s[i])).attr("fill", scheme.outer);
  plot.append("path").attr("d", band(lo68s[i], hi68s[i])).attr("fill", scheme.inner);

  // zero reference
  plot.append("line")
    .attr("x1", 0).attr("x2", pw)
    .attr("y1", y(0)).attr("y2", y(0))
    .attr("stroke", "#000").attr("stroke-width", 1.1)
    .attr("stroke-dasharray", "5.5,3.5");

  const line = d3.line().x((d, k) => x(horizons[k])).y(d => y(d));
  plot.append("path").attr("d", line(medians[i]))
    .attr("fill", "none").attr("stroke", scheme.line).attr("stroke-width", 1.3);

  g.append("g").selectAll("circle")
    .data(dotSeries[i])
    .join("circle")
    .attr("cx", (d, k) => x(dotHorizons[k]))
    .attr("cy", d => y(d))
    .attr("r", 3.4)
    .attr("fill", "#000");

  // axes: ticks point inward on all four sides
  const styleAxis = sel => {
    sel.select(".domain").remove();
    sel.selectAll(".tick line").attr("stroke", axisColor).attr("stroke-width", 0.8);
    sel.selectAll("text").attr("font-family", serif).attr("font-size", 12)
      .attr("font-weight", 400).attr("fill", axisColor);
  };

  g.append("g").attr("transform", `translate(0,${ph})`)
    .call(d3.axisBottom(x).tickValues(xTicks).tickSize(-3).tickPadding(5).tickFormat(d3.format("d")))
    .call(styleAxis);
  g.append("g")
    .call(d3.axisTop(x).tickValues(xTicks).tickSize(-3).tickFormat(""))
    .call(styleAxis);
  g.append("g")
    .call(d3.axisLeft(y).tickValues(yTicks[i]).tickSize(-3).tickPadding(5).tickFormat(fmt))
    .call(styleAxis);
  g.append("g").attr("transform", `translate(${pw},0)`)
    .call(d3.axisRight(y).tickValues(yTicks[i]).tickSize(-3).tickFormat(""))
    .call(styleAxis);

  g.append("rect")
    .attr("width", pw).attr("height", ph)
    .attr("fill", "none").attr("stroke", axisColor).attr("stroke-width", 1);

  g.append("text")
    .attr("x", pw / 2).attr("y", -5)
    .attr("text-anchor", "middle")
    .attr("font-family", serif)
    .attr("font-size", 13.5)
    .attr("font-weight", 400)
    .attr("fill", "#000")
    .text(title);
});
</script>
</body>
</html>
